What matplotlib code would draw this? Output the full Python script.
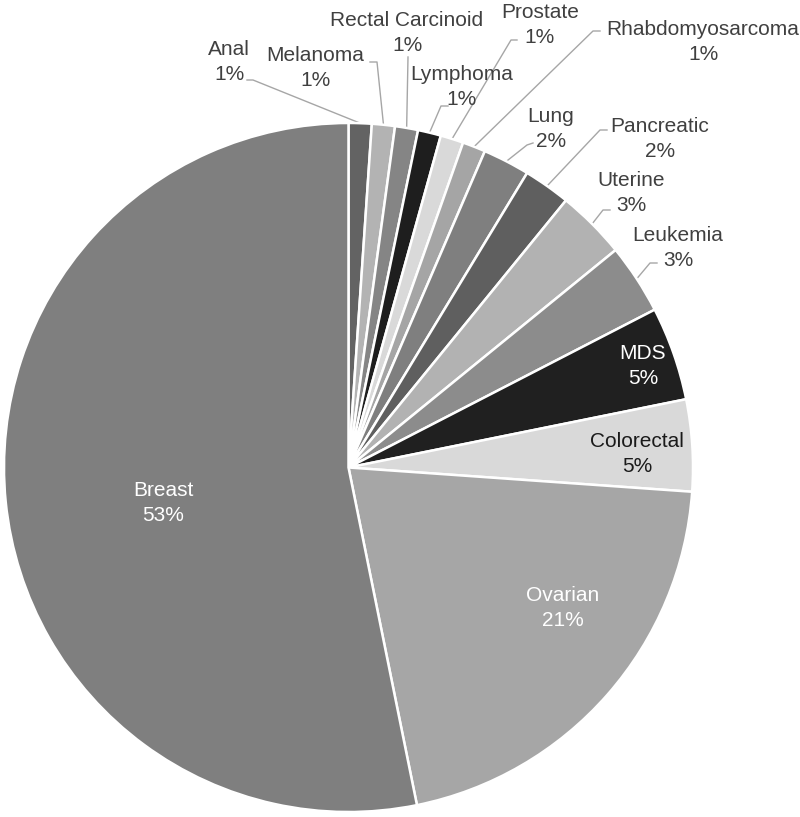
import matplotlib
matplotlib.use("Agg")
import matplotlib.pyplot as plt
import numpy as np

plt.rcParams['font.family'] = ['Liberation Sans', 'DejaVu Sans']

categories = ["Anal", "Melanoma", "Rectal Carcinoid", "Lymphoma", "Prostate",
              "Rhabdomyosarcoma", "Lung", "Pancreatic", "Uterine", "Leukemia",
              "MDS", "Colorectal", "Ovarian", "Breast"]
values = [1.08, 1.08, 1.08, 1.08, 1.08, 1.08, 2.2, 2.2, 3.25, 3.3, 4.4, 4.3, 20.7, 53.2]
pct_labels = ["1%", "1%", "1%", "1%", "1%", "1%", "2%", "2%", "3%", "3%",
              "5%", "5%", "21%", "53%"]
colors = ["#636363", "#b3b3b3", "#858585", "#1e1e1e", "#d9d9d9", "#a5a5a5",
          "#7f7f7f", "#5f5f5f", "#b2b2b2", "#8c8c8c", "#202020", "#d9d9d9",
          "#a6a6a6", "#7f7f7f"]

W, H = 800, 817
fig = plt.figure(figsize=(W / 100, H / 100), dpi=100)
ax = fig.add_axes([0, 0, 1, 1])
ax.set_xlim(0, W)
ax.set_ylim(0, H)
ax.set_aspect('equal')
ax.axis('off')

cx, cy, R = 348.5, H - 467.5, 344.5
wedges, _ = ax.pie(values, center=(cx, cy), radius=R, startangle=90,
                   counterclock=False, colors=colors,
                   wedgeprops=dict(edgecolor='white', linewidth=1.8))
ax.set_xlim(0, W)
ax.set_ylim(0, H)

# label placement (pixel coords from top-left)
label_pos = {
    "Anal": (229, 62), "Melanoma": (315, 68), "Rectal Carcinoid": (407, 33),
    "Lymphoma": (462, 87), "Prostate": (540, 25), "Rhabdomyosarcoma": (703, 42),
    "Lung": (551, 129), "Pancreatic": (660, 139), "Uterine": (631, 193),
    "Leukemia": (678, 248), "MDS": (643, 366), "Colorectal": (637, 454),
    "Ovarian": (563, 608), "Breast": (163, 503),
}
leader_start = {
    "Anal": [(247, 80), (253, 80)], "Melanoma": [(370, 62), (377, 62)],
    "Rectal Carcinoid": [(408, 57)], "Lymphoma": [(448, 106), (441, 106)],
    "Prostate": [(517, 40), (511, 40)], "Rhabdomyosarcoma": [(600, 31), (593, 31)],
    "Lung": [(533, 143), (527, 145)], "Pancreatic": [(607, 130), (600, 130)],
    "Uterine": [(610, 210), (603, 210)], "Leukemia": [(657, 263), (650, 263)],
}
text_color = {"MDS": "white", "Ovarian": "white", "Breast": "white",
              "Colorectal": "#1a1a1a"}

for w, cat, pct in zip(wedges, categories, pct_labels):
    lx, ly = label_pos[cat]
    col = text_color.get(cat, "#404040")
    ax.text(lx, H - ly, f"{cat}\n{pct}", ha='center', va='center',
            fontsize=15, color=col, linespacing=1.42)
    if cat in leader_start:
        mid = np.deg2rad((w.theta1 + w.theta2) / 2)
        ex, ey = cx + R * np.cos(mid), cy + R * np.sin(mid)
        pts = [(x, H - y) for x, y in leader_start[cat]] + [(ex, ey)]
        xs, ys = zip(*pts)
        ax.plot(xs, ys, color="#a6a6a6", lw=1.0, zorder=0.5)

fig.savefig("out.png", dpi=100, facecolor='white')
